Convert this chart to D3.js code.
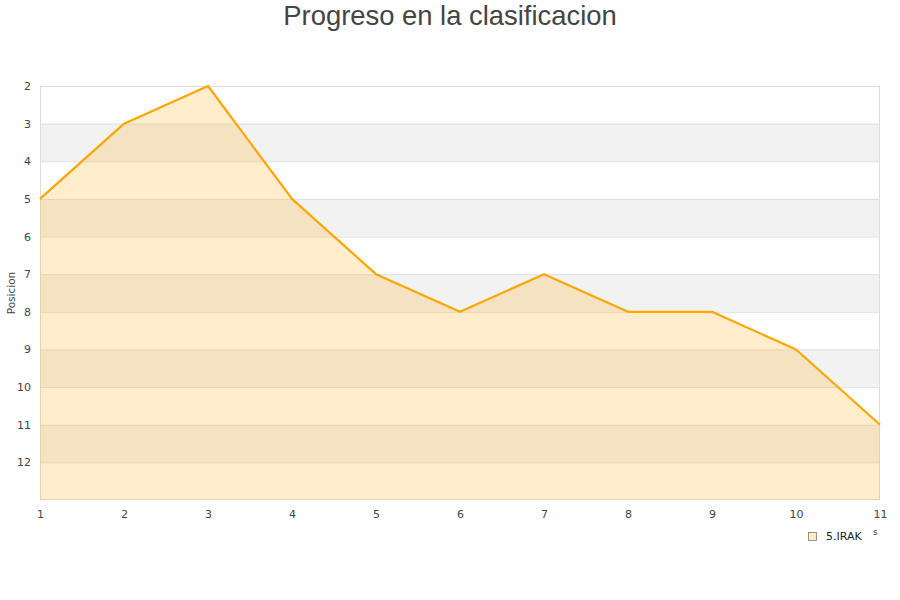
<!DOCTYPE html>
<html><head><meta charset="utf-8">
<script src="https://cdn.jsdelivr.net/npm/d3@7"></script>
<style>body{margin:0;background:#fff;font-family:"DejaVu Sans",sans-serif;}</style>
</head><body>
<svg id="c" width="900" height="600"></svg>
<script>
const jornadas = [1,2,3,4,5,6,7,8,9,10,11];
const posiciones = [5,3,2,5,7,8,7,8,8,9,11];
const yTicks = [2,3,4,5,6,7,8,9,10,11,12];
const seriesName = "5.IRAK";
const title = "Progreso en la clasificacion";
const yTitle = "Posicion";

const svg = d3.select("#c");
const m = {l:40, r:880, t:86, b:500};
const x = d3.scaleLinear().domain([1,11]).range([m.l, m.r]);
const y = d3.scaleLinear().domain([2,13]).range([m.t, m.b]);

const bands = d3.range(2,13);
svg.selectAll("rect.band").data(bands).enter().append("rect")
  .attr("x", m.l).attr("width", m.r-m.l)
  .attr("y", d=>y(d)).attr("height", d=>y(d+1)-y(d))
  .attr("fill", d=> (d%2===1) ? "#f2f2f2" : "#ffffff");
svg.selectAll("line.grid").data(d3.range(3,13)).enter().append("line")
  .attr("x1", m.l).attr("x2", m.r).attr("y1", d=>y(d)+0.5).attr("y2", d=>y(d)+0.5)
  .attr("stroke", "#e0e0e0").attr("stroke-width",1);
svg.append("rect").attr("x", m.l+0.5).attr("y", m.t+0.5).attr("width", m.r-m.l-1).attr("height", m.b-m.t-1)
  .attr("fill","none").attr("stroke","#dddddd");

const pts = jornadas.map((j,i)=>[j,posiciones[i]]);
svg.append("path").datum(pts)
  .attr("d", d3.area().x(d=>x(d[0])).y0(m.b).y1(d=>y(d[1])))
  .attr("fill", "rgba(255,165,0,0.2)");
svg.append("path").datum(pts)
  .attr("d", d3.line().x(d=>x(d[0])).y(d=>y(d[1])))
  .attr("fill", "none").attr("stroke", "#ffa500").attr("stroke-width", 2.2).attr("stroke-linejoin","round");

const ya = d3.axisLeft(y).tickValues(yTicks).tickSize(0).tickPadding(0);
const gy = svg.append("g").attr("transform", `translate(${m.l-9},0)`).call(ya);
gy.select(".domain").remove();
gy.selectAll("text").attr("font-size", 11).attr("fill", "#444").attr("font-family","DejaVu Sans").attr("dy","0.32em");
const xa = d3.axisBottom(x).tickValues(jornadas).tickSize(0).tickPadding(0).tickFormat(d3.format("d"));
const gx = svg.append("g").attr("transform", `translate(0,${m.b+10})`).call(xa);
gx.select(".domain").remove();
gx.selectAll("text").attr("font-size", 11).attr("fill", "#444").attr("font-family","DejaVu Sans").attr("dy","0.71em");

svg.append("text").attr("x", 450).attr("y", 25).attr("text-anchor","middle")
  .attr("font-family","Liberation Sans, Arial, sans-serif").attr("font-size", 27.4).attr("fill","#444").text(title);
svg.append("text").attr("transform","translate(15,293) rotate(-90)").attr("text-anchor","middle")
  .attr("font-size", 10.5).attr("fill","#444").text(yTitle);

svg.append("rect").attr("x", 808.5).attr("y", 532.5).attr("width", 8).attr("height", 8)
  .attr("fill", "#feecc9").attr("stroke", "#8a7a60").attr("stroke-width", 0.8);
svg.append("text").attr("x", 826).attr("y", 540).attr("font-size", 11).attr("fill", "#222").text(seriesName);
svg.append("text").attr("x", 873).attr("y", 535).attr("font-size", 9).attr("fill", "#444").text("s");
</script>
</body></html>
